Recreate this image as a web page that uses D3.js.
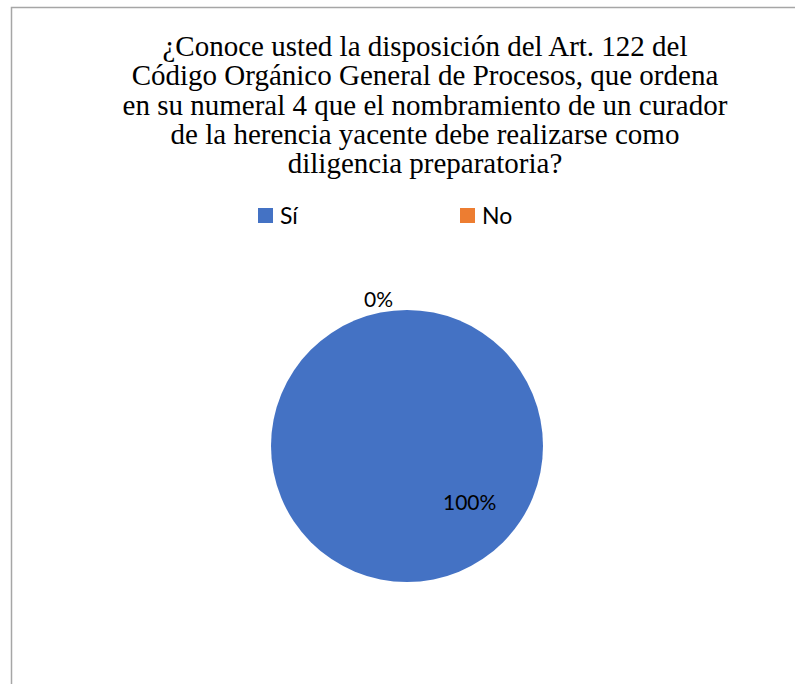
<!DOCTYPE html>
<html><head><meta charset="utf-8">
<script src="https://cdn.jsdelivr.net/npm/d3@7"></script>
<style>html,body{margin:0;padding:0;background:#fff;}</style>
</head><body>
<svg id="chart" width="795" height="684"></svg>
<script>
const titleLines = [
  "¿Conoce usted la disposición del Art. 122 del",
  "Código Orgánico General de Procesos, que ordena",
  "en su numeral 4 que el nombramiento de un curador",
  "de la herencia yacente debe realizarse como",
  "diligencia preparatoria?"
];
const categories = ["Sí", "No"];
const values = [100, 0];
const labels = ["100%", "0%"];
const colors = ["#4472C4", "#ED7D31"];

const svg = d3.select("#chart");
// frame
svg.append("rect").attr("x", 11.5).attr("y", 7.5).attr("width", 900).attr("height", 900)
  .attr("fill", "#fff").attr("stroke", "#a6a6a6").attr("stroke-width", 1.5);

// title
const cx = 425;
svg.append("text").attr("x", cx).attr("y", 56)
  .attr("text-anchor", "middle")
  .attr("font-family", "'Liberation Serif','Times New Roman',serif")
  .attr("font-size", 29).attr("fill", "#000")
  .selectAll("tspan").data(titleLines).join("tspan")
  .attr("x", cx).attr("dy", (d, i) => i === 0 ? 0 : 29.3).text(d => d);

// legend
const legX = d3.scalePoint().domain(categories).range([258, 460]);
const leg = svg.append("g").selectAll("g").data(categories).join("g")
  .attr("transform", d => `translate(${legX(d)},208)`);
leg.append("rect").attr("width", 15).attr("height", 15)
  .attr("fill", (d, i) => colors[i]);
leg.append("text").attr("x", 22).attr("y", 16)
  .attr("font-family", "Lato, 'Open Sans', sans-serif").attr("font-size", 23)
  .attr("fill", "#000").text(d => d);

// pie
const pcx = 407, pcy = 446, R = 136;
const pie = d3.pie().sort(null).value(d => d)(values);
const arc = d3.arc().innerRadius(0).outerRadius(R);
const g = svg.append("g").attr("transform", `translate(${pcx},${pcy})`);
g.selectAll("path").data(pie).join("path")
  .attr("d", arc).attr("fill", (d, i) => colors[i]);

// data labels
const labelAngle = [132 * Math.PI / 180, -11 * Math.PI / 180];
const labelRadius = [0.62 * R, 1.1 * R];
g.selectAll("text.lbl").data(pie).join("text").attr("class", "lbl")
  .attr("x", (d, i) => labelRadius[i] * Math.sin(labelAngle[i]))
  .attr("y", (d, i) => -labelRadius[i] * Math.cos(labelAngle[i]))
  .attr("dy", "0.35em")
  .attr("text-anchor", "middle")
  .attr("font-family", "Lato, 'Open Sans', sans-serif").attr("font-size", 21)
  .attr("fill", "#000").text((d, i) => labels[i]);
</script>
</body></html>
